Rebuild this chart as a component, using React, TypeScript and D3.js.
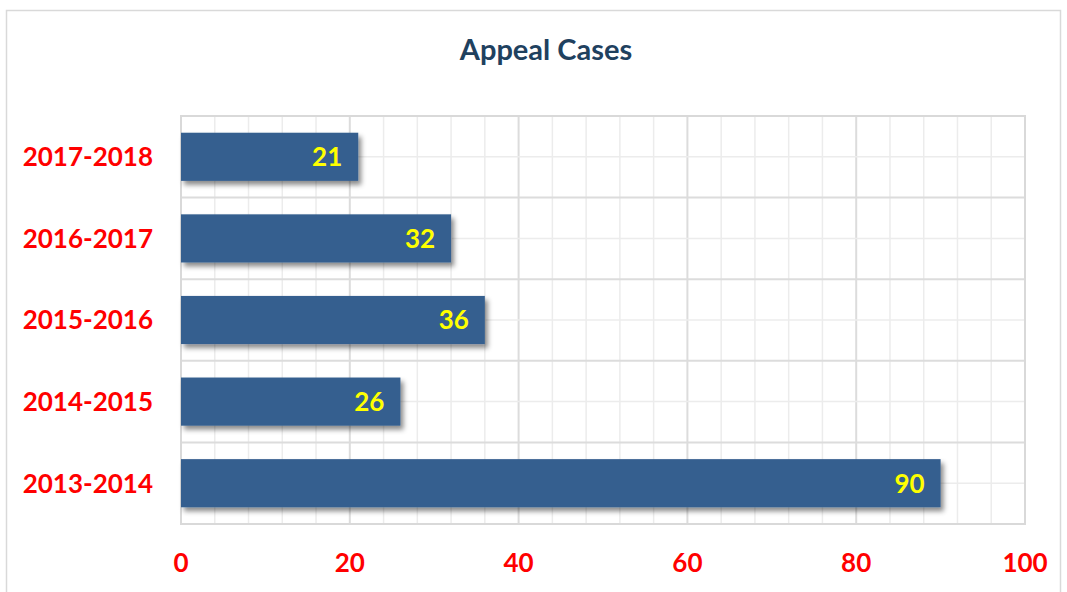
import { useEffect, useRef } from "react";
import * as d3 from "d3";

// Données
const categories = ["2017-2018", "2016-2017", "2015-2016", "2014-2015", "2013-2014"];
const values = [21, 32, 36, 26, 90];
const ticks = [0, 20, 40, 60, 80, 100];

const W = 1067;
const H = 592;

export default function App() {
  const svgRef = useRef<SVGSVGElement>(null);

  useEffect(() => {
    if (!svgRef.current) return;
    const svg = d3.select(svgRef.current);
    svg.selectAll("*").remove();

    const font = "Lato, 'Open Sans', sans-serif";
    const left = 181;
    const right = 1025;
    const top = 116;
    const bottom = 524;

    const x = d3.scaleLinear().domain([0, 100]).range([left, right]);
    const y = d3.scaleBand<string>().domain(categories).range([top, bottom]).paddingInner(0.41).paddingOuter(0.205);

    // Ombre portée
    const defs = svg.append("defs");
    const f = defs.append("filter").attr("id", "shadow").attr("x", "-5%").attr("y", "-30%").attr("width", "115%").attr("height", "170%");
    f.append("feDropShadow").attr("dx", 3).attr("dy", 4).attr("stdDeviation", 2.5).attr("flood-color", "#000").attr("flood-opacity", 0.45);

    // Cadre extérieur
    svg.append("rect").attr("x", 6.5).attr("y", 10.5).attr("width", 1054).attr("height", 600)
      .attr("fill", "#fff").attr("stroke", "#d9d9d9").attr("stroke-width", 1.5);

    // Titre
    svg.append("text").attr("x", 546).attr("y", 60).attr("text-anchor", "middle")
      .style("font-family", font).style("font-size", "29px").style("font-weight", "bold")
      .style("fill", "#1f415f").text("Appeal Cases");

    const grid = svg.append("g");
    // Grille mineure verticale (tous les 4)
    d3.range(0, 101, 4).forEach((v) => {
      grid.append("line").attr("x1", x(v)).attr("x2", x(v)).attr("y1", top).attr("y2", bottom)
        .attr("stroke", v % 20 === 0 ? "#dcdcdc" : "#ececec").attr("stroke-width", v % 20 === 0 ? 2 : 1.5);
    });
    // Grille horizontale
    const bw = y.step();
    categories.forEach((c, i) => {
      const y0 = top + i * bw;
      grid.append("line").attr("x1", left).attr("x2", right).attr("y1", y0 + bw / 2).attr("y2", y0 + bw / 2)
        .attr("stroke", "#ececec").attr("stroke-width", 1.5);
      if (i > 0) {
        grid.append("line").attr("x1", left).attr("x2", right).attr("y1", y0).attr("y2", y0)
          .attr("stroke", "#dcdcdc").attr("stroke-width", 2);
      }
    });
    // Bordure de la zone de tracé
    grid.append("rect").attr("x", left).attr("y", top).attr("width", right - left).attr("height", bottom - top)
      .attr("fill", "none").attr("stroke", "#d9d9d9").attr("stroke-width", 2);

    // Barres
    const bars = svg.append("g");
    categories.forEach((c, i) => {
      bars.append("rect").attr("x", x(0)).attr("y", y(c)!).attr("width", x(values[i]) - x(0)).attr("height", y.bandwidth())
        .attr("fill", "#365f8f").attr("filter", "url(#shadow)");
      bars.append("text").attr("x", x(values[i]) - 16).attr("y", y(c)! + y.bandwidth() / 2).attr("dy", "0.36em")
        .attr("text-anchor", "end").style("font-family", font).style("font-size", "26px").style("font-weight", "bold")
        .style("fill", "#ffff00").text(values[i]);
    });

    // Étiquettes des catégories
    categories.forEach((c) => {
      svg.append("text").attr("x", 153).attr("y", y(c)! + y.bandwidth() / 2).attr("dy", "0.36em")
        .attr("text-anchor", "end").style("font-family", font).style("font-size", "26px").style("font-weight", "bold")
        .style("fill", "#ff0000").text(c);
    });

    // Axe X
    ticks.forEach((t) => {
      svg.append("text").attr("x", x(t)).attr("y", 563).attr("dy", "0.36em").attr("text-anchor", "middle")
        .style("font-family", font).style("font-size", "26px").style("font-weight", "bold")
        .style("fill", "#ff0000").text(t);
    });
  }, []);

  return (
    <div style={{ position: "fixed", left: 0, top: 0, width: W, height: H, overflow: "hidden" }}>
      <svg ref={svgRef} width={W} height={H} style={{ display: "block" }} />
    </div>
  );
}
